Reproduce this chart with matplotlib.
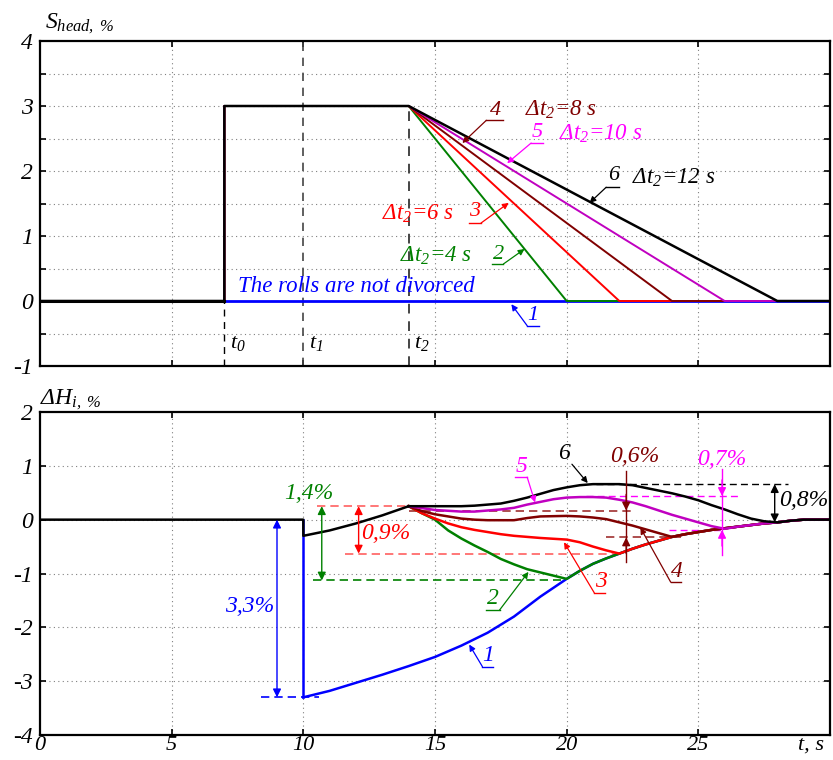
import numpy as np
import matplotlib
matplotlib.use('Agg')
import matplotlib.pyplot as plt

plt.rcParams['font.family'] = ['Liberation Serif', 'DejaVu Serif']
plt.rcParams['font.style'] = 'italic'
plt.rcParams['mathtext.fontset'] = 'custom'
plt.rcParams['mathtext.rm'] = 'Liberation Serif'
plt.rcParams['mathtext.it'] = 'Liberation Serif:italic'

# ---- data: top panel (head speed mismatch S_head) ----
t_start = 7
t_ramp = 14
t_end = [20, 22, 24, 26, 28]          # curves 2..6
s_level = 3

# ---- data: bottom panel (thickness deviation dH_i) ----
x_pre = [0, 10]
y_pre = [0, 0]
x_rise = [10, 11, 12, 13, 14]
y_rise = [-0.3, -0.2, -0.07, 0.08, 0.25]

x1 = [10, 11, 12, 13, 14, 15, 16, 17, 18, 19, 20]
y1 = [-3.3, -3.18, -3.03, -2.88, -2.72, -2.55, -2.34, -2.1, -1.8, -1.43, -1.1]

x_tail = [20, 20.5, 21, 21.5, 22, 22.5, 23, 23.5, 24, 24.5, 25, 25.5, 26, 26.5, 27, 27.5, 28, 28.5, 29, 30]
y_tail = [-1.1, -0.95, -0.82, -0.72, -0.63, -0.54, -0.46, -0.39, -0.32, -0.27, -0.23, -0.19, -0.16,
          -0.13, -0.1, -0.07, -0.05, -0.02, 0, 0]

x2 = [14, 14.5, 15, 15.5, 16, 16.5, 17, 17.5, 18, 18.5, 19, 19.5, 20]
y2 = [0.25, 0.12, 0.0, -0.2, -0.35, -0.48, -0.6, -0.73, -0.83, -0.92, -0.98, -1.04, -1.1]

x3 = [14, 14.5, 15, 15.5, 16, 16.5, 17, 17.5, 18, 19, 20, 20.5, 21, 21.5, 22]
y3 = [0.25, 0.12, 0.02, -0.07, -0.14, -0.19, -0.23, -0.27, -0.3, -0.34, -0.37, -0.42, -0.5, -0.57, -0.63]

x4 = [14, 14.5, 15, 15.5, 16, 16.5, 17, 18, 18.5, 19, 20, 20.5, 21, 21.5, 22, 22.5, 23, 23.5, 24]
y4 = [0.25, 0.16, 0.1, 0.06, 0.02, 0.0, -0.01, -0.01, 0.03, 0.06, 0.07, 0.06, 0.04, 0.01, -0.05,
      -0.11, -0.18, -0.25, -0.32]

x5 = [14, 15, 16, 16.5, 17, 17.5, 18, 18.5, 19, 19.5, 20, 20.5, 21, 21.5, 22, 22.5, 23, 23.5, 24,
      24.5, 25, 25.5, 26]
y5 = [0.25, 0.18, 0.15, 0.15, 0.17, 0.19, 0.22, 0.28, 0.33, 0.38, 0.41, 0.42, 0.42, 0.41, 0.37,
      0.32, 0.25, 0.17, 0.09, 0.02, -0.05, -0.12, -0.17]

x6 = [14, 15, 16, 16.5, 17, 17.5, 18, 18.5, 19, 19.5, 20, 20.5, 21, 22, 22.5, 23, 23.5, 24, 24.5,
      25, 25.5, 26, 26.5, 27, 27.5, 28]
y6 = [0.25, 0.25, 0.25, 0.26, 0.28, 0.3, 0.35, 0.41, 0.48, 0.55, 0.6, 0.64, 0.66, 0.66, 0.64, 0.59,
      0.54, 0.49, 0.43, 0.36, 0.27, 0.19, 0.1, 0.02, -0.03, -0.05]

colors = ['#0000ff', '#008000', '#ff0000', '#800000', '#c000c0', '#000000']
text_colors = ['#0000ff', '#008000', '#ff0000', '#800000', '#ff00ff', '#000000']

fig = plt.figure(figsize=(8.33, 7.6), dpi=100)
W, H = 833, 760
ax1 = fig.add_axes([40 / W, 1 - 366 / H, 790 / W, 325 / H])
ax2 = fig.add_axes([40 / W, 1 - 735 / H, 790 / W, 323 / H])


def style(ax):
    for s in ax.spines.values():
        s.set_linewidth(1.6)
    ax.tick_params(direction='in', top=True, right=True, length=4, width=1.2, labelsize=17)
    ax.tick_params(axis='y', pad=5)
    ax.tick_params(axis='x', pad=1, labelsize=16)
    ax.set_xlim(0, 30)
    ax.set_xticks([0, 5, 10, 15, 20, 25])


# ---------------- top panel ----------------
style(ax1)
ax1.set_ylim(-1, 4)
ax1.set_yticks(np.arange(-1, 4.01, 0.5))
ax1.set_yticklabels(['-1', '', '0', '', '1', '', '2', '', '3', '', '4'])
ax1.set_xticklabels([])
for yy in np.arange(-0.5, 4, 0.5):
    ax1.axhline(yy, color='gray', ls=(0, (1, 3)), lw=0.8, zorder=0)
for xx in [5, 15, 20, 25]:
    ax1.axvline(xx, color='gray', ls=(0, (1, 3)), lw=0.8, zorder=0)
ax1.plot([7, 7], [-1, 0], color='k', ls=(0, (5, 4)), lw=1.0)
ax1.plot([10, 10], [-1, 4], color='#444444', ls=(0, (5, 4)), lw=1.2)
ax1.plot([14, 14], [-1, 3], color='#444444', ls=(0, (5, 4)), lw=1.4)

ax1.plot([0, 30], [0, 0], color=colors[0], lw=2)
for i, te in enumerate(t_end):
    ax1.plot([0, t_start, t_start, t_ramp, te, 30], [0, 0, s_level, s_level, 0, 0],
             color=colors[i + 1], lw=1.4 if i < 4 else 1.8)
ax1.plot([0, t_start], [0, 0], color='k', lw=2.2)

ax1.text(7.2, -0.65, r'$t_0$', fontsize=16, va='center')
ax1.text(10.2, -0.65, r'$t_1$', fontsize=16, va='center')
ax1.text(14.2, -0.65, r'$t_2$', fontsize=16, va='center')
ax1.text(7.5, 0.23, 'The rolls are not divorced', color='#0000ff', fontsize=16.5, va='center')
fig.text(45 / W, 1 - 24 / H, r'$S_{head,\ \%}$', fontsize=17, va='center')


def leader(ax, num, tx, ty, ux0, ux1, uy, sx, sy, px, py, c, fs=16, under=True):
    ax.text(tx, ty, num, color=c, fontsize=fs, ha='center', va='center')
    if under:
        ax.plot([ux0, ux1], [uy, uy], color=c, lw=1.0)
    ax.annotate('', xy=(px, py), xytext=(sx, sy),
                arrowprops=dict(arrowstyle='-|>', color=c, lw=0.9, mutation_scale=9,
                                shrinkA=0, shrinkB=0))


leader(ax1, '4', 17.3, 2.93, 16.95, 17.6, 2.78, 16.95, 2.78, 16.04, 2.43, text_colors[3])
leader(ax1, '5', 18.9, 2.6, 18.65, 19.1, 2.43, 18.65, 2.43, 17.74, 2.12, text_colors[4])
leader(ax1, '6', 21.8, 1.93, 21.5, 22.0, 1.75, 21.5, 1.75, 20.87, 1.51, text_colors[5])
leader(ax1, '3', 16.5, 1.37, 16.3, 16.75, 1.2, 16.75, 1.2, 17.8, 1.51, text_colors[2])
leader(ax1, '2', 17.4, 0.72, 17.15, 17.6, 0.57, 17.6, 0.57, 18.4, 0.8, text_colors[1])
leader(ax1, '1', 18.7, -0.22, 18.5, 18.95, -0.38, 18.5, -0.38, 17.9, -0.05, text_colors[0])

ax1.text(18.4, 2.94, r'$\Delta t_2$=8 s', color=text_colors[3], fontsize=16.5, va='center')
ax1.text(19.7, 2.57, r'$\Delta t_2$=10 s', color=text_colors[4], fontsize=16.5, va='center')
ax1.text(22.5, 1.89, r'$\Delta t_2$=12 s', color=text_colors[5], fontsize=16.5, va='center')
ax1.text(15.7, 1.34, r'$\Delta t_2$=6 s', color=text_colors[2], fontsize=16.5, va='center', ha='right')
ax1.text(16.4, 0.69, r'$\Delta t_2$=4 s', color=text_colors[1], fontsize=16.5, va='center', ha='right')

# ---------------- bottom panel ----------------
style(ax2)
ax2.set_ylim(-4, 2)
ax2.set_yticks(np.arange(-4, 2.01, 1))
ax2.set_yticklabels(['-4', '-3', '-2', '-1', '0', '1', '2'])
for yy in [-3, -2, -1, 0, 1]:
    ax2.axhline(yy, color='gray', ls=(0, (1, 3)), lw=0.8, zorder=0)
for xx in [5, 10, 15, 20, 25]:
    ax2.axvline(xx, color='gray', ls=(0, (1, 3)), lw=0.8, zorder=0)

# dashed reference levels
ax2.plot([8.4, 10.6], [-3.3, -3.3], color=colors[0], ls=(0, (5, 3)), lw=1.2)
ax2.plot([10.35, 19.8], [-1.13, -1.13], color=colors[1], ls=(0, (5, 3)), lw=1.2)
ax2.plot([10.5, 14], [0.25, 0.25], color='#ff6060', ls=(0, (5, 3)), lw=1.2)
ax2.plot([11.6, 21.9], [-0.63, -0.63], color='#ff6060', ls=(0, (5, 3)), lw=1.2)
ax2.plot([14, 22.6], [0.17, 0.17], color='#a03030', ls=(0, (5, 3)), lw=1.2)
ax2.plot([21.5, 24.4], [-0.33, -0.33], color='#a03030', ls=(0, (5, 3)), lw=1.2)
ax2.plot([20.75, 26.5], [0.44, 0.44], color='#ff00ff', ls=(0, (5, 3)), lw=1.0)
ax2.plot([23.9, 25.9], [-0.19, -0.19], color='#ff00ff', ls=(0, (5, 3)), lw=1.0)
ax2.plot([21.1, 28.4], [0.66, 0.66], color='k', ls=(0, (5, 3)), lw=1.0)

# curves
ax2.plot(x1 + x_tail, y1 + y_tail, color=colors[0], lw=1.8)
ax2.plot([10, 10], [0, -3.3], color=colors[0], lw=1.8)
ax2.plot(x2 + x_tail[1:], y2 + y_tail[1:], color=colors[1], lw=1.8)
for xs, ys, c in [(x3, y3, colors[2]), (x4, y4, colors[3]), (x5, y5, colors[4]), (x6, y6, colors[5])]:
    xt = [v for v in x_tail if v > xs[-1]]
    yt = y_tail[len(x_tail) - len(xt):]
    ax2.plot(xs + xt, ys + yt, color=c, lw=1.8)
ax2.plot(x_pre + x_rise, y_pre + y_rise, color='k', lw=1.8)


def dbl(ax, x, y0, y1, c, fs_lw=1.0):
    ax.annotate('', xy=(x, y1), xytext=(x, y0),
                arrowprops=dict(arrowstyle='<|-|>', color=c, lw=fs_lw, mutation_scale=12,
                                shrinkA=0, shrinkB=0))


dbl(ax2, 9.0, 0, -3.3, colors[0])
dbl(ax2, 10.7, 0.25, -1.13, colors[1])
dbl(ax2, 12.1, 0.25, -0.63, '#ff0000')
dbl(ax2, 27.9, 0.66, -0.05, 'k')


def inward(ax, x, ytop, ybot, yt_end, yb_end, c):
    ax.plot([x, x], [ytop, ybot], color=c, lw=1.0)
    ax.annotate('', xy=(x, yt_end), xytext=(x, yt_end + 0.3),
                arrowprops=dict(arrowstyle='-|>', color=c, lw=1.0, mutation_scale=12,
                                shrinkA=0, shrinkB=0))
    ax.annotate('', xy=(x, yb_end), xytext=(x, yb_end - 0.3),
                arrowprops=dict(arrowstyle='-|>', color=c, lw=1.0, mutation_scale=12,
                                shrinkA=0, shrinkB=0))


inward(ax2, 22.26, 0.9, -0.79, 0.17, -0.33, '#800000')
inward(ax2, 25.9, 0.94, -0.66, 0.44, -0.19, '#ff00ff')

ax2.text(8.9, -1.62, '3,3%', color=colors[0], fontsize=17, ha='right', va='center')
ax2.text(10.2, 0.48, '1,4%', color=colors[1], fontsize=17, ha='center', va='center')
ax2.text(12.2, -0.26, '0,9%', color='#ff0000', fontsize=17, ha='left', va='center')
ax2.text(22.6, 1.18, '0,6%', color='#800000', fontsize=17, ha='center', va='center')
ax2.text(25.9, 1.12, '0,7%', color='#ff00ff', fontsize=17, ha='center', va='center')
ax2.text(28.05, 0.35, '0,8%', color='k', fontsize=17, ha='left', va='center')

leader(ax2, '6', 19.9, 1.23, 0, 0, 0, 20.2, 1.03, 20.8, 0.68, 'k', fs=17, under=False)
leader(ax2, '5', 18.3, 0.98, 18.05, 18.5, 0.79, 18.5, 0.79, 18.8, 0.32, text_colors[4], fs=17)
leader(ax2, '4', 24.2, -0.97, 23.95, 24.35, -1.16, 23.95, -1.16, 22.8, -0.15, text_colors[3], fs=17)
leader(ax2, '3', 21.3, -1.15, 21.05, 21.45, -1.36, 21.05, -1.36, 19.9, -0.42, text_colors[2], fs=17)
leader(ax2, '2', 17.2, -1.47, 16.95, 17.45, -1.68, 17.45, -1.68, 18.55, -0.97, text_colors[1], fs=17)
leader(ax2, '1', 17.0, -2.52, 16.8, 17.2, -2.73, 16.8, -2.73, 16.3, -2.32, text_colors[0], fs=17)

ax2.text(28.8, -4.19, 't, s', fontsize=16, ha='left', va='center')
fig.text(40 / W, 1 - 400 / H, r'$\Delta H_{i,\ \%}$', fontsize=17, va='center')

fig.savefig('out.png', dpi=100)
